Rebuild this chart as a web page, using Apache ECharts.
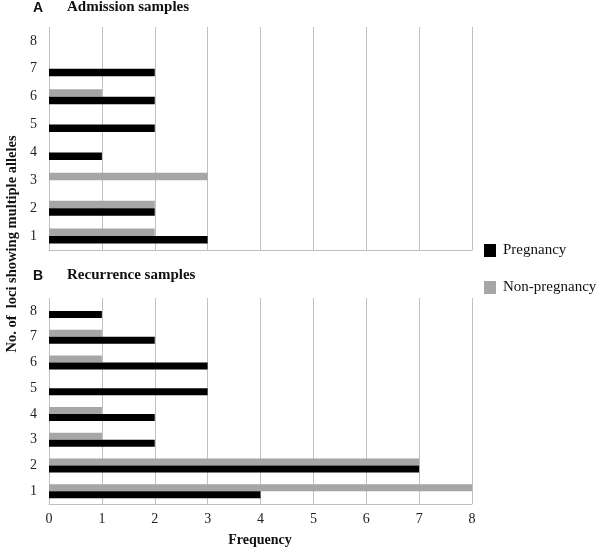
<!DOCTYPE html>
<html><head><meta charset="utf-8">
<script src="https://cdn.jsdelivr.net/npm/echarts@6/dist/echarts.min.js"></script>
<style>html,body{margin:0;padding:0;background:#fff}#c{width:600px;height:549px}</style>
</head><body><div id="c"></div>
<script>
const categories = ['1','2','3','4','5','6','7','8'];
const xTicks = [0,1,2,3,4,5,6,7,8];
const admissionPregnancy    = [3, 2, 0, 1, 2, 2, 2, 0];
const admissionNonPregnancy = [2, 2, 3, 0, 0, 1, 0, 0];
const recurrencePregnancy    = [4, 7, 2, 2, 3, 3, 2, 1];
const recurrenceNonPregnancy = [8, 7, 1, 1, 0, 1, 1, 0];
const seriesNames = ['Pregnancy', 'Non-pregnancy'];
const panelTitles = ['Admission samples', 'Recurrence samples'];

const SERIF = '"Liberation Serif", "Times New Roman", serif';
const chart = echarts.init(document.getElementById('c'));
const gridColor = '#c0c0c0';
function xAx(gi, showLabels){
  return {gridIndex: gi, type:'value', min:0, max:8, interval:1,
    axisLine:{show:true, lineStyle:{color:gridColor}}, axisTick:{show:false},
    axisLabel:{show:showLabels, fontFamily:SERIF, fontSize:14, color:'#222', margin:8},
    splitLine:{show:true, lineStyle:{color:gridColor, width:1}}};
}
function yAx(gi){
  return {gridIndex: gi, type:'category', data:categories,
    axisLine:{show:false}, axisTick:{show:false},
    axisLabel:{fontFamily:SERIF, fontSize:14, color:'#222', margin:12}};
}
chart.setOption({
  animation:false,
  grid:[{left:49, top:27, width:423, height:223},{left:49, top:298, width:423, height:206}],
  xAxis:[xAx(0,false), xAx(1,true)],
  yAxis:[yAx(0), yAx(1)],
  legend:{orient:'vertical', left:484, top:243, padding:0, itemWidth:12, itemHeight:13, itemGap:22, icon:'rect',
    data:seriesNames, textStyle:{fontFamily:SERIF, fontSize:15, color:'#111', padding:[0,0,0,2]}},
  series:[
    {name:seriesNames[1], type:'bar', xAxisIndex:0, yAxisIndex:0, data:admissionNonPregnancy, barWidth:7.5, barGap:'0%', itemStyle:{color:'#a6a6a6'}},
    {name:seriesNames[0], type:'bar', xAxisIndex:0, yAxisIndex:0, data:admissionPregnancy, barWidth:7.5, barGap:'0%', itemStyle:{color:'#000'}},
    {name:seriesNames[1], type:'bar', xAxisIndex:1, yAxisIndex:1, data:recurrenceNonPregnancy, barWidth:7, barGap:'0%', itemStyle:{color:'#a6a6a6'}},
    {name:seriesNames[0], type:'bar', xAxisIndex:1, yAxisIndex:1, data:recurrencePregnancy, barWidth:7, barGap:'0%', itemStyle:{color:'#000'}}
  ],
  graphic:[
    {type:'text', left:33, top:1, style:{text:'A', font:'bold 14px "Liberation Sans", Arial, sans-serif', fill:'#111'}},
    {type:'text', left:67, top:0, style:{text:panelTitles[0], font:'bold 15px '+SERIF, fill:'#111'}},
    {type:'text', left:33, top:269, style:{text:'B', font:'bold 14px "Liberation Sans", Arial, sans-serif', fill:'#111'}},
    {type:'text', left:67, top:268, style:{text:panelTitles[1], font:'bold 15px '+SERIF, fill:'#111'}},
    {type:'text', x:260, y:540, style:{text:'Frequency', font:'bold 14px '+SERIF, fill:'#111', align:'center', verticalAlign:'middle'}},
    {type:'text', x:12, y:244, rotation:Math.PI/2, style:{text:'No. of  loci showing multiple alleles', font:'bold 14.5px '+SERIF, fill:'#111', align:'center', verticalAlign:'middle'}}
  ]
});
</script></body></html>
